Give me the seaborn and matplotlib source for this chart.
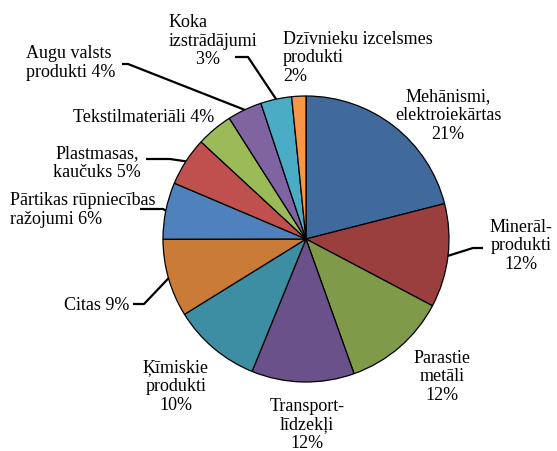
import numpy as np
import matplotlib.pyplot as plt
import seaborn as sns

# dati (pulksteņrādītāja virzienā no augšas)
categories = ["Mehānismi, elektroiekārtas", "Minerālprodukti", "Parastie metāli",
              "Transportlīdzekļi", "Ķīmiskie produkti", "Citas",
              "Pārtikas rūpniecības ražojumi", "Plastmasas, kaučuks", "Tekstilmateriāli",
              "Augu valsts produkti", "Koka izstrādājumi", "Dzīvnieku izcelsmes produkti"]
shares = [21.0, 11.7, 11.8, 11.6, 10.0, 8.8, 6.4, 5.5, 4.1, 3.9, 3.5, 1.6]
label_texts = ["Mehānismi,\nelektroiekārtas\n21%", "Minerāl-\nprodukti\n12%",
               "Parastie\nmetāli\n12%", "Transport-\nlīdzekļi\n12%",
               "Ķīmiskie\nprodukti\n10%", "Citas 9%",
               "Pārtikas rūpniecības\nražojumi 6%", "Plastmasas,\nkaučuks 5%",
               "Tekstilmateriāli 4%", "Augu valsts\nprodukti 4%",
               "Koka\nizstrādājumi\n      3%", "Dzīvnieku izcelsmes\nprodukti\n2%"]
colors = ["#3F6A9B", "#9B3F3E", "#7F9A48", "#6A518A", "#3D8DA3", "#CB7B38",
          "#4F81BD", "#C0504D", "#9BBB59", "#8064A2", "#4BACC6", "#F79646"]

sns.set_theme(style="white")
plt.rcParams["font.family"] = ["Liberation Serif", "DejaVu Serif"]

W, H = 557, 452
fig = plt.figure(figsize=(W / 100, H / 100), dpi=100)
ax = fig.add_axes([0, 0, 1, 1])
ax.set_aspect("equal")
ax.axis("off")

cx, cy, r = 306, H - 240, 143
wedges, _ = ax.pie(shares, colors=sns.color_palette(colors), startangle=90,
                   counterclock=False, center=(cx, cy), radius=r,
                   wedgeprops=dict(edgecolor="black", linewidth=0.9))
ax.set_xlim(0, W)
ax.set_ylim(0, H)

# teksta novietojums (x, y no augšas, izlīdzinājums)
layout = [
    (448, 116, "center"), (521, 246, "center"), (442, 377, "center"),
    (307, 425, "center"), (176, 387, "center"), (129, 306, "right"),
    (10, 210, "left"), (97, 163, "center"), (144, 117, "center"),
    (26, 63, "left"), (169, 41, "left"), (283, 58, "left"),
]
for txt, (x, y, ha) in zip(label_texts, layout):
    ax.text(x, H - y, txt, ha=ha, va="center", multialignment=ha if ha != "right" else "center",
            fontsize=13, color="black", linespacing=1.15)

# līnijas no sektora uz tekstu
leaders = {
    10: [(248, 58), (235, 58)],
    9: [(128, 65), (122, 65)],
    7: [(170, 160), (146, 160)],
    6: [(163, 210), (140, 210)],
    5: [(144, 305), (133, 305)],
    1: [(473, 249), (483, 249)],
}
for i, pts in leaders.items():
    w = wedges[i]
    mid = np.deg2rad((w.theta1 + w.theta2) / 2)
    xs = [cx + r * np.cos(mid)] + [p[0] for p in pts]
    ys = [cy + r * np.sin(mid)] + [H - p[1] for p in pts]
    ax.plot(xs, ys, color="black", linewidth=1.6, solid_capstyle="butt")

plt.savefig("out.png", dpi=100, facecolor="white")
